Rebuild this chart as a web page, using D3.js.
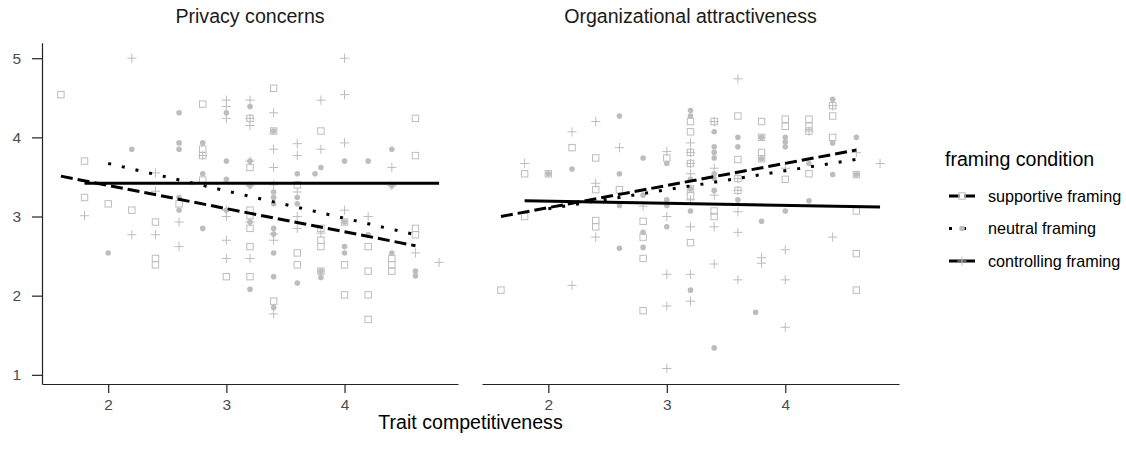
<!DOCTYPE html>
<html>
<head>
<meta charset="utf-8">
<script src="https://cdnjs.cloudflare.com/ajax/libs/d3/7.8.5/d3.min.js"></script>
<style>
body { margin: 0; background: #fff; }
text { font-family: "Liberation Sans", Arial, sans-serif; }
</style>
</head>
<body>
<script>
var width = 1126,
	height = 462;

// facets, conditions, ticks
var facets = ["Privacy concerns", "Organizational attractiveness"];
var conditions = ["supportive framing", "neutral framing", "controlling framing"];
var xTicks = [2, 3, 4];
var yTicks = [1, 2, 3, 4, 5];

// points: [trait competitiveness, score]
var privacySupportive = [[1.6,4.54],[1.8,3.70],[1.8,3.24],[2.0,3.16],[2.2,3.08],[2.4,2.93],[2.4,2.47],[2.4,2.39],[2.6,3.16],
	[2.8,4.42],[2.8,3.85],[2.8,3.77],[2.8,3.46],[3.0,2.24],[3.2,4.24],[3.2,3.62],[3.2,3.08],[3.2,3.01],[3.2,2.85],[3.2,2.62],
	[3.2,2.24],[3.4,4.62],[3.4,4.08],[3.4,1.93],[3.6,3.40],[3.6,2.54],[3.6,2.39],[3.8,4.08],[3.8,2.85],[3.8,2.70],[3.8,2.62],
	[3.8,2.31],[4.0,2.93],[4.0,2.39],[4.0,2.01],[4.2,2.62],[4.2,2.31],[4.2,2.01],[4.2,1.70],[4.4,2.47],[4.4,2.39],[4.4,2.31],
	[4.6,4.24],[4.6,3.77],[4.6,2.85],[4.6,2.77]];
var privacyNeutral = [[2.0,2.54],[2.2,3.85],[2.6,4.31],[2.6,3.93],[2.6,3.85],[2.6,3.24],[2.6,3.08],[2.8,3.93],[2.8,3.54],
	[2.8,2.85],[3.0,4.31],[3.0,3.70],[3.0,3.47],[3.0,3.08],[3.2,4.39],[3.2,3.70],[3.2,3.39],[3.2,2.93],[3.2,2.08],[3.4,4.08],
	[3.4,3.31],[3.4,3.24],[3.4,3.16],[3.4,2.85],[3.4,2.78],[3.4,2.54],[3.4,2.24],[3.4,1.85],[3.6,3.54],[3.6,3.24],[3.6,3.16],
	[3.6,2.16],[3.75,3.54],[3.8,3.62],[3.8,2.31],[3.8,2.23],[4.0,3.70],[4.0,2.93],[4.0,2.62],[4.0,2.54],[4.2,3.70],[4.2,2.77],
	[4.4,3.85],[4.4,3.39],[4.4,2.54],[4.6,2.31],[4.6,2.25]];
var privacyControlling = [[1.8,3.01],[2.2,5.0],[2.2,2.77],[2.4,3.55],[2.4,3.32],[2.4,2.77],[2.6,2.93],[2.6,2.62],[2.8,3.77],
	[3.0,4.47],[3.0,4.39],[3.0,4.24],[3.0,3.08],[3.0,3.0],[3.0,2.70],[3.0,2.47],[3.2,4.47],[3.2,4.24],[3.2,4.15],[3.2,3.70],
	[3.2,3.39],[3.2,2.93],[3.2,2.47],[3.4,4.31],[3.4,3.85],[3.4,3.62],[3.4,3.40],[3.4,2.78],[3.4,2.70],[3.4,1.77],[3.6,3.92],
	[3.6,3.77],[3.6,3.31],[3.6,3.0],[3.6,2.85],[3.8,4.47],[3.8,3.85],[3.8,2.79],[4.0,5.0],[4.0,4.54],[4.0,3.93],[4.0,3.08],
	[4.2,3.0],[4.4,3.62],[4.4,3.39],[4.6,2.54],[4.8,2.42]];

var attractSupportive = [[1.6,2.07],[1.8,3.54],[1.8,3.0],[2.0,3.54],[2.2,3.87],[2.4,3.74],[2.4,3.34],[2.4,2.95],[2.4,2.87],
	[2.6,3.34],[2.8,2.94],[2.8,2.74],[2.8,2.47],[2.8,1.81],[3.0,3.74],[3.2,4.20],[3.2,4.07],[3.2,3.81],[3.2,3.67],[3.2,3.35],
	[3.2,3.26],[3.2,2.67],[3.4,4.20],[3.4,3.07],[3.4,3.0],[3.6,4.27],[3.6,3.72],[3.6,3.48],[3.6,3.33],[3.8,4.20],[3.8,4.0],
	[3.8,3.81],[3.8,3.73],[4.0,4.23],[4.0,4.14],[4.0,3.47],[4.2,4.23],[4.2,4.14],[4.2,4.08],[4.2,3.54],[4.4,4.40],[4.4,4.27],
	[4.4,4.0],[4.6,3.53],[4.6,3.07],[4.6,2.53],[4.6,2.07]];
var attractNeutral = [[2.0,3.54],[2.2,3.60],[2.6,4.27],[2.6,3.54],[2.6,3.14],[2.6,2.60],[2.8,3.74],[2.8,3.27],[2.8,2.80],
	[2.8,2.61],[3.0,3.67],[3.0,3.21],[3.0,3.14],[3.0,2.87],[3.2,4.34],[3.2,4.27],[3.2,3.47],[3.2,3.35],[3.2,3.07],[3.2,2.07],
	[3.4,4.07],[3.4,3.88],[3.4,3.81],[3.4,3.74],[3.4,3.54],[3.4,3.48],[3.4,3.33],[3.4,1.34],[3.6,4.0],[3.6,3.88],[3.6,3.21],
	[3.75,1.79],[3.8,4.0],[3.8,3.73],[3.8,2.94],[4.0,4.0],[4.0,3.94],[4.0,3.88],[4.0,3.07],[4.2,3.67],[4.2,3.20],[4.4,4.48],
	[4.4,3.93],[4.4,3.53],[4.6,4.0],[4.6,3.53]];
var attractControlling = [[1.8,3.67],[2.2,4.07],[2.2,2.13],[2.4,4.20],[2.4,3.42],[2.4,2.74],[2.6,3.87],[2.8,3.13],[3.0,3.82],
	[3.0,3.0],[3.0,2.27],[3.0,1.87],[3.0,1.08],[3.2,3.93],[3.2,3.81],[3.2,3.67],[3.2,3.54],[3.2,3.21],[3.2,2.87],[3.2,2.27],
	[3.2,1.93],[3.4,4.20],[3.4,3.61],[3.4,3.27],[3.4,2.87],[3.4,2.40],[3.6,4.74],[3.6,3.48],[3.6,3.33],[3.6,3.06],[3.6,2.80],
	[3.6,2.20],[3.8,2.48],[3.8,2.41],[4.0,3.61],[4.0,2.58],[4.0,2.20],[4.0,1.60],[4.2,4.08],[4.4,4.40],[4.4,2.74],[4.6,3.81],
	[4.8,3.67]];

// fitted lines per condition: [intercept, slope]
var privacyFits = [[3.979, -0.293], [4.362, -0.346], [3.42, 0]];
var attractFits = [[2.552, 0.28], [2.618, 0.24], [3.248, -0.0267]];

var panels = [
	{title: facets[0], groups: [privacySupportive, privacyNeutral, privacyControlling], fits: privacyFits, left: 42, right: 458},
	{title: facets[1], groups: [attractSupportive, attractNeutral, attractControlling], fits: attractFits, left: 482, right: 899}
];

// "top" is taken by window.top, so plotTop
var plotTop = 42.7, plotBottom = 384;
var grey = "#bdbdbd";
var dashes = ["12,5", "3,11", null];

// ggplot style 5% expansion of the data range
function expand(ext) {
	var pad = (ext[1] - ext[0]) * 0.05;
	return [ext[0] - pad, ext[1] + pad];
}
var allPts = d3.merge(panels.map(function(p) { return d3.merge(p.groups); }));
var xDomain = expand(d3.extent(allPts, function(d) { return d[0]; }));
var yDomain = expand(d3.extent(allPts, function(d) { return d[1]; }));

var y = d3.scaleLinear().domain(yDomain).range([plotBottom, plotTop]);

var svg = d3.select("body").append("svg")
	.attr("width", width)
	.attr("height", height);

// draws the marker of a condition at 0,0 inside g
function marker(g, i) {
	if (i == 0) {
		g.append("rect").attr("x", -3.2).attr("y", -3.2).attr("width", 6.4).attr("height", 6.4)
			.attr("fill", "none").attr("stroke", grey).attr("stroke-width", 1);
	} else if (i == 1) {
		g.append("circle").attr("r", 2.8).attr("fill", grey);
	} else {
		g.append("path").attr("d", "M-4.6,0H4.6M0,-4.6V4.6")
			.attr("stroke", grey).attr("stroke-width", 1);
	}
}

function styleAxis(a) {
	a.select(".domain").attr("stroke", "#222").attr("stroke-width", 1.2);
	a.selectAll(".tick line").attr("stroke", "#222").attr("stroke-width", 1.2);
	a.selectAll("text").attr("fill", "#4d4d4d").style("font-size", "15.5px")
		.style("font-family", "Liberation Sans, Arial, sans-serif");
}

panels.forEach(function(p, pi) {
	var x = d3.scaleLinear().domain(xDomain).range([p.left, p.right]);
	var g = svg.append("g");

	// strip title
	g.append("text")
		.attr("x", (p.left + p.right) / 2)
		.attr("y", 23)
		.attr("text-anchor", "middle")
		.attr("fill", "#1a1a1a")
		.style("font-size", "19.6px")
		.text(p.title);

	// points
	p.groups.forEach(function(pts, i) {
		g.selectAll(".pt" + i)
			.data(pts)
			.enter().append("g")
			.attr("class", "pt" + i)
			.attr("transform", function(d) { return "translate(" + x(d[0]) + "," + y(d[1]) + ")"; })
			.each(function() { marker(d3.select(this), i); });
	});

	// regression lines
	var line = d3.line()
		.x(function(d) { return x(d[0]); })
		.y(function(d) { return y(d[1]); });
	p.groups.forEach(function(pts, i) {
		var ext = d3.extent(pts, function(d) { return d[0]; });
		var f = p.fits[i];
		var ends = ext.map(function(v) { return [v, f[0] + f[1] * v]; });
		g.append("path")
			.attr("d", line(ends))
			.attr("fill", "none")
			.attr("stroke", "#000")
			.attr("stroke-width", 3)
			.attr("stroke-dasharray", dashes[i]);
	});

	// x axis
	var xAxis = g.append("g")
		.attr("transform", "translate(0," + plotBottom + ")")
		.call(d3.axisBottom(x).tickValues(xTicks).tickFormat(d3.format("d")).tickSize(9).tickSizeOuter(0).tickPadding(6));
	styleAxis(xAxis);

	// y axis only on first panel
	if (pi == 0) {
		var yAxis = g.append("g")
			.attr("transform", "translate(" + p.left + ",0)")
			.call(d3.axisLeft(y).tickValues(yTicks).tickFormat(d3.format("d")).tickSize(10).tickSizeOuter(0).tickPadding(11));
		styleAxis(yAxis);
	}
});

// x axis title
svg.append("text")
	.attr("x", (panels[0].left + panels[1].right) / 2)
	.attr("y", 429)
	.attr("text-anchor", "middle")
	.attr("fill", "#000")
	.style("font-size", "19.6px")
	.text("Trait competitiveness");

// legend
var legend = svg.append("g").attr("transform", "translate(945,0)");
legend.append("text")
	.attr("x", 0)
	.attr("y", 166)
	.attr("fill", "#000")
	.style("font-size", "19.6px")
	.text("framing condition");

var keyY = d3.scalePoint().domain(conditions).range([196, 261]);
conditions.forEach(function(c, i) {
	var k = legend.append("g").attr("transform", "translate(0," + keyY(c) + ")");
	k.append("line")
		.attr("x1", 4).attr("x2", 30)
		.attr("stroke", "#000")
		.attr("stroke-width", 3)
		.attr("stroke-dasharray", dashes[i])
		.attr("stroke-dashoffset", i == 0 ? 1.5 : 0);
	var m = k.append("g").attr("transform", "translate(17,0)");
	marker(m, i);
	k.append("text")
		.attr("x", 43)
		.attr("y", 5.5)
		.attr("fill", "#000")
		.style("font-size", "16.2px")
		.text(c);
});
</script>
</body>
</html>
